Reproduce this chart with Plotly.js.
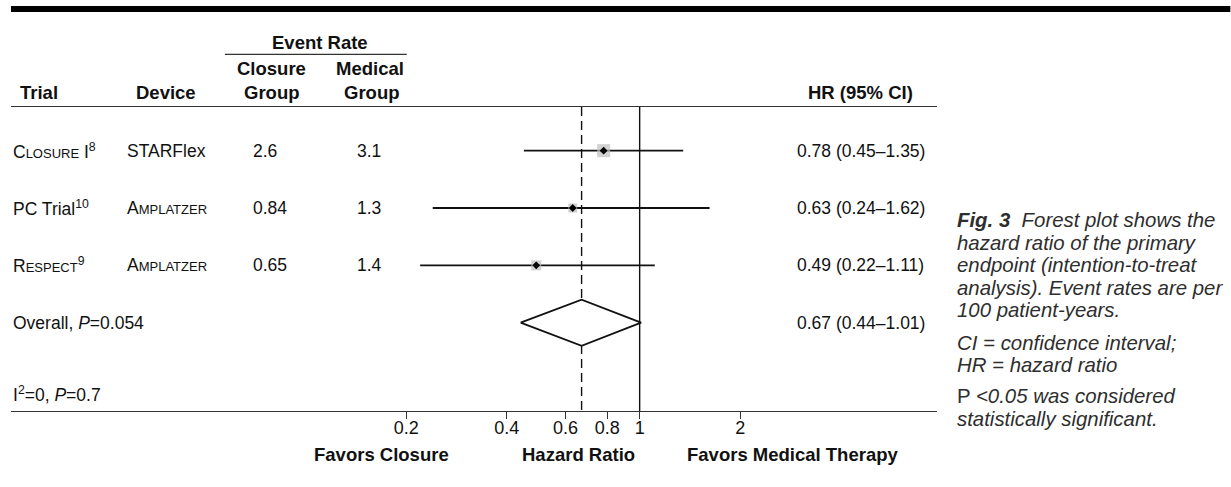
<!DOCTYPE html>
<html>
<head>
<meta charset="utf-8">
<script src="https://cdn.plot.ly/plotly-3.0.1.min.js"></script>
<style>
  html, body { margin: 0; padding: 0; background: #ffffff; }
  #chart { width: 1231px; height: 487px; }
</style>
</head>
<body>
<div id="chart"></div>
<script>
// ---- Trial-level results ----
const trials = ['Closure I', 'PC Trial', 'Respect'];
const trialRefs = ['8', '10', '9'];
const trialSmallCaps = [true, false, true];
const devices = ['STARFlex', 'Amplatzer', 'Amplatzer'];
const deviceSmallCaps = [false, true, true];
const closureRate = ['2.6', '0.84', '0.65'];
const medicalRate = ['3.1', '1.3', '1.4'];
const hr = [0.78, 0.63, 0.49];
const hrLow = [0.45, 0.24, 0.22];
const hrHigh = [1.35, 1.62, 1.11];

// ---- Pooled estimate ----
const overallHR = 0.67;
const overallLow = 0.44;
const overallHigh = 1.01;
const overallP = '0.054';
const hetI2 = '0';
const hetP = '0.7';

// ---- Axis ----
const tickValues = [0.2, 0.4, 0.6, 0.8, 1, 2];
const tickLabels = ['0.2', '0.4', '0.6', '0.8', '1', '2'];

// ---- Caption ----
const captionLines = [
  '<i><b>Fig. 3</b>  Forest plot shows the</i>',
  '<i>hazard ratio of the primary</i>',
  '<i>endpoint (intention-to-treat</i>',
  '<i>analysis). Event rates are per</i>',
  '<i>100 patient-years.</i>',
  '<i>CI = confidence interval;</i>',
  '<i>HR = hazard ratio</i>',
  'P <i>&lt;0.05 was considered</i>',
  '<i>statistically significant.</i>'
];
const captionTop = [220, 243, 265, 287.5, 310, 343, 365, 396, 418.5];

// ---- Frame geometry (pixels) ----
const FIG_W = 1231, FIG_H = 487;
const PLOT_L = 11, PLOT_R = 937.5, PLOT_T = 107, PLOT_B = 410.7;
const plotW = PLOT_R - PLOT_L, plotH = PLOT_B - PLOT_T;
const px = p => (p - PLOT_L) / plotW;          // pixel x -> paper x
const py = p => (PLOT_B - p) / plotH;          // pixel y -> paper y

const FONT = 'Liberation Sans, Arial, Helvetica, sans-serif';
const INK = '#111111';
const RULE = '#333333';

// Rows sit at y = 0,1,2 (trials) and 3 (pooled); 57.3 px per row
const ROW0 = 150.6, ROW_STEP = 57.3;
const yTop = (PLOT_T - ROW0) / ROW_STEP;
const yBot = (PLOT_B - ROW0) / ROW_STEP;
// Log axis: 334 px per decade, HR = 1 at x = 640 px
const DEC = 334, ONE_PX = 640;
const xLeft = (PLOT_L - ONE_PX) / DEC;
const xRight = (PLOT_R - ONE_PX) / DEC;

function smallCaps(s) {
  let out = '';
  for (const ch of s) {
    if (ch >= 'a' && ch <= 'z') out += '<span style="font-size:13px">' + ch.toUpperCase() + '</span>';
    else out += ch;
  }
  return out.replace(/<\/span><span style="font-size:13px">/g, '');
}

const rowIdx = trials.map((_, i) => i);
const pooledRow = trials.length;

// ---- Traces ----
const traces = [];

// line of no effect
traces.push({
  x: [1, 1], y: [yTop, yBot], mode: 'lines', hoverinfo: 'skip',
  line: { color: INK, width: 1.4 }, showlegend: false
});
// pooled estimate reference line
traces.push({
  x: [overallHR, overallHR], y: [yTop, yBot], mode: 'lines', hoverinfo: 'skip',
  line: { color: INK, width: 1.4, dash: '9px,5px' }, showlegend: false
});
// confidence intervals
traces.push({
  x: hr, y: rowIdx, mode: 'markers', type: 'scatter', showlegend: false,
  marker: { size: 1, color: 'rgba(0,0,0,0)' },
  error_x: {
    type: 'data', symmetric: false,
    array: hr.map((v, i) => hrHigh[i] - v),
    arrayminus: hr.map((v, i) => v - hrLow[i]),
    color: INK, thickness: 1.8, width: 0
  }
});
// weighted squares
traces.push({
  x: hr, y: rowIdx, mode: 'markers', type: 'scatter', showlegend: false,
  marker: { symbol: 'square', size: [13, 9, 10], color: '#bdbdbd', line: { width: 0 } }
});
// point estimates
traces.push({
  x: hr, y: rowIdx, mode: 'markers', showlegend: false,
  marker: { symbol: 'diamond', size: 6, color: '#000000' }
});
// pooled diamond
const dh = 23 / ROW_STEP;
traces.push({
  x: [overallLow, overallHR, overallHigh, overallHR, overallLow],
  y: [pooledRow, pooledRow - dh, pooledRow, pooledRow + dh, pooledRow],
  mode: 'lines', fill: 'toself', fillcolor: '#ffffff', showlegend: false,
  line: { color: INK, width: 1.8 }
});

// ---- Annotations ----
const ann = [];
function txt(text, x, y, opt) {
  ann.push(Object.assign({
    text: text, x: x, y: y, xref: 'paper', yref: 'paper',
    showarrow: false, xanchor: 'left', yanchor: 'middle',
    font: { family: FONT, size: 17.5, color: INK }
  }, opt || {}));
}
const HEAD = { family: FONT, size: 18.5, color: INK };

// column headers
txt('<b>Event Rate</b>', px(320), py(43), { xanchor: 'center', font: HEAD });
txt('<b>Closure</b>', px(272), py(69), { xanchor: 'center', font: HEAD });
txt('<b>Group</b>', px(272), py(93), { xanchor: 'center', font: HEAD });
txt('<b>Medical</b>', px(370), py(69), { xanchor: 'center', font: HEAD });
txt('<b>Group</b>', px(372), py(93), { xanchor: 'center', font: HEAD });
txt('<b>Trial</b>', px(39), py(93), { xanchor: 'center', font: HEAD });
txt('<b>Device</b>', px(166), py(93), { xanchor: 'center', font: HEAD });
txt('<b>HR (95% CI)</b>', px(861), py(93), { xanchor: 'center', font: HEAD });

// table rows
trials.forEach((t, i) => {
  const name = (trialSmallCaps[i] ? smallCaps(t) : t) + '<sup>' + trialRefs[i] + '</sup>';
  const dev = deviceSmallCaps[i] ? smallCaps(devices[i]) : devices[i];
  const hrText = hr[i].toFixed(2) + ' (' + hrLow[i].toFixed(2) + '\u2013' + hrHigh[i].toFixed(2) + ')';
  txt(name, px(11), i, { yref: 'y' });
  txt(dev, px(125), i, { yref: 'y' });
  txt(closureRate[i], px(251), i, { yref: 'y' });
  txt(medicalRate[i], px(355), i, { yref: 'y' });
  txt(hrText, px(861), i, { yref: 'y', xanchor: 'center' });
});
txt('Overall, <i>P</i>=' + overallP, px(11), pooledRow, { yref: 'y' });
txt(overallHR.toFixed(2) + ' (' + overallLow.toFixed(2) + '\u2013' + overallHigh.toFixed(2) + ')',
    px(861), pooledRow, { yref: 'y', xanchor: 'center' });
txt('I<sup>2</sup>=' + hetI2 + ', <i>P</i>=' + hetP, px(11), py(393.5));

// axis captions
txt('<b>Favors Closure</b>', px(381.5), py(454), { xanchor: 'center', font: HEAD });
txt('<b>Hazard Ratio</b>', px(578.5), py(454), { xanchor: 'center', font: HEAD });
txt('<b>Favors Medical Therapy</b>', px(792.5), py(454), { xanchor: 'center', font: HEAD });

// figure caption
captionLines.forEach((line, i) => {
  txt(line, px(956), py(captionTop[i]), { font: { family: FONT, size: 20.4, color: '#2e2e2e' } });
});

// ---- Layout ----
const layout = {
  width: FIG_W, height: FIG_H,
  margin: { l: PLOT_L, r: FIG_W - PLOT_R, t: PLOT_T, b: FIG_H - PLOT_B, pad: 0 },
  paper_bgcolor: '#ffffff', plot_bgcolor: '#ffffff',
  showlegend: false,
  xaxis: {
    type: 'log', range: [xLeft, xRight], fixedrange: true,
    showgrid: false, zeroline: false,
    showline: true, mirror: true, linecolor: RULE, linewidth: 1.4,
    ticks: 'outside', ticklen: 7, tickwidth: 1, tickcolor: RULE,
    tickvals: tickValues, ticktext: tickLabels,
    ticklabelstandoff: -7,
    tickfont: { family: FONT, size: 18, color: INK }
  },
  yaxis: {
    range: [yBot, yTop], fixedrange: true,
    showgrid: false, zeroline: false, showline: false,
    showticklabels: false, ticks: ''
  },
  shapes: [
    // heavy rule across the top of the figure
    { type: 'rect', xref: 'paper', yref: 'paper', layer: 'above',
      x0: px(11), x1: px(1231), y0: py(12), y1: py(6),
      fillcolor: '#000000', line: { width: 0 } },
    // rule under "Event Rate"
    { type: 'line', xref: 'paper', yref: 'paper',
      x0: px(225), x1: px(407), y0: py(54.5), y1: py(54.5),
      line: { color: RULE, width: 1.3 } }
  ],
  annotations: ann
};

Plotly.newPlot('chart', traces, layout, { staticPlot: true, displayModeBar: false });
</script>
</body>
</html>
